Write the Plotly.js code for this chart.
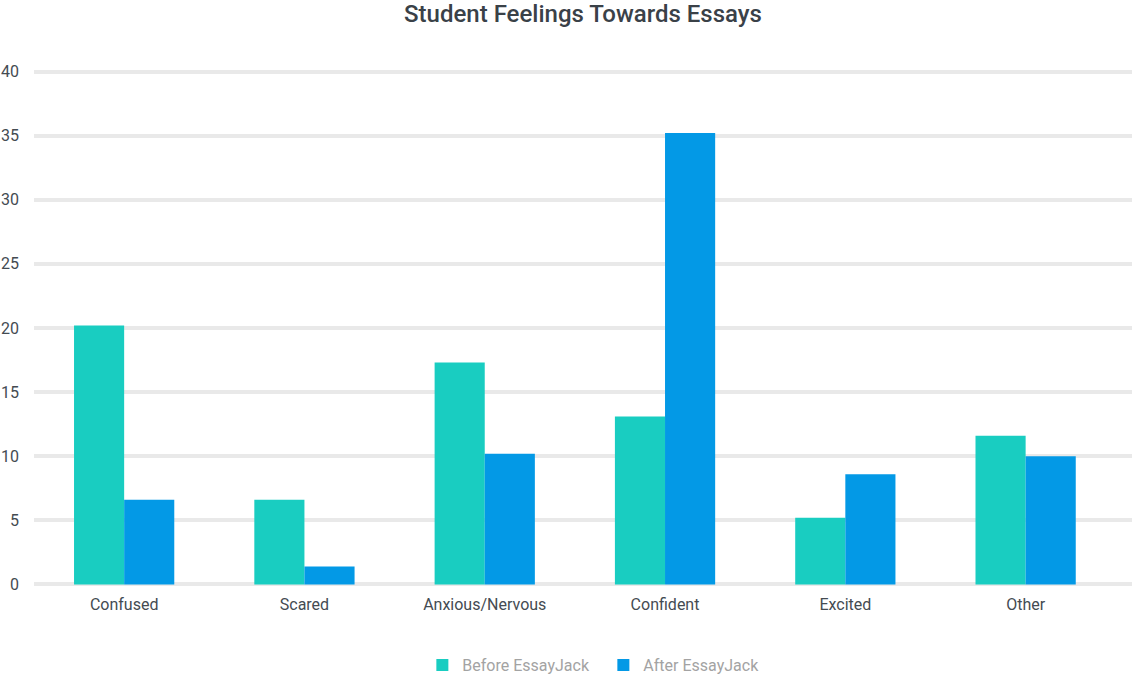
<!DOCTYPE html>
<html>
<head>
<meta charset="utf-8">
<script src="https://cdn.plot.ly/plotly-3.0.1.min.js"></script>
<style>html,body{margin:0;padding:0;background:#fff;}#chart{width:1132px;height:676px;}</style>
</head>
<body>
<div id="chart"></div>
<script>
var categories = ["Confused", "Scared", "Anxious/Nervous", "Confident", "Excited", "Other"];
var beforeValues = [20.2, 6.6, 17.3, 13.1, 5.2, 11.6];
var afterValues = [6.6, 1.4, 10.2, 35.2, 8.6, 10.0];
var seriesNames = ["Before EssayJack", "After EssayJack"];
var yTicks = [0, 5, 10, 15, 20, 25, 30, 35, 40];

var traces = [
  {type: "bar", x: categories, y: beforeValues, name: seriesNames[0],
   marker: {color: "#19cdc1"}, hoverinfo: "y"},
  {type: "bar", x: categories, y: afterValues, name: seriesNames[1],
   marker: {color: "#0399e6"}, hoverinfo: "y"}
];

var layout = {
  width: 1132, height: 676,
  paper_bgcolor: "#fff", plot_bgcolor: "#fff",
  margin: {l: 34, r: 0, t: 69.4, b: 89.4},
  font: {family: "Roboto, 'Open Sans', sans-serif", color: "#444b52", size: 16},
  title: {text: "Student Feelings Towards Essays", x: 0.515, xanchor: "center", y: 0.98, yanchor: "middle",
          font: {size: 24, color: "#3a4148", family: "Roboto, sans-serif", weight: 500}},
  barmode: "group",
  bargap: 0.444,
  bargroupgap: 0,
  xaxis: {range: [-0.5, 5.59], showgrid: false, zeroline: false, showline: false,
          ticks: "", ticklabelstandoff: 6, tickfont: {size: 16, color: "#444b52"}, fixedrange: true},
  yaxis: {range: [-0.2, 40.2], tickvals: yTicks, ticktext: yTicks.map(String), showgrid: true,
          gridcolor: "#e9e9e9", gridwidth: 4, zeroline: false, showline: false,
          ticks: "", ticklabelstandoff: 14, tickfont: {size: 16, color: "#444b52"}, fixedrange: true},
  showlegend: true,
  legend: {orientation: "h", xref: "container", x: 0.533, xanchor: "center", yref: "container", y: 0.0163, yanchor: "middle",
           font: {size: 16, color: "#a3a3a3"}, itemwidth: 30, entrywidth: 136},
  hovermode: false
};
Plotly.newPlot("chart", traces, layout, {displayModeBar: false, staticPlot: true});
</script>
</body>
</html>
